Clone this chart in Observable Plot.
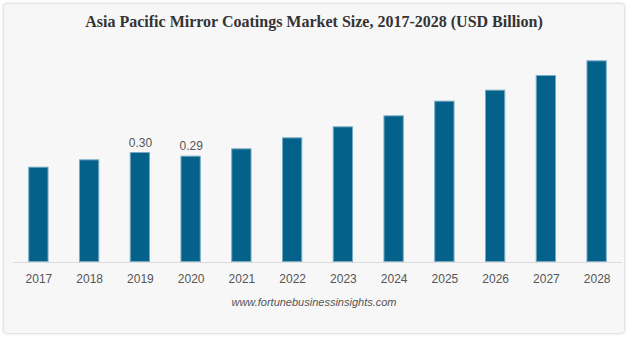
<!DOCTYPE html>
<html>
<head>
<meta charset="utf-8">
<script src="https://cdn.jsdelivr.net/npm/d3@7"></script>
<script src="https://cdn.jsdelivr.net/npm/@observablehq/plot@0.6"></script>
<style>
  html, body { margin: 0; padding: 0; background: #ffffff; }
  body { width: 628px; height: 337px; position: relative; overflow: hidden; }
  #card {
    position: absolute; left: 3px; top: 3px; width: 622px; height: 331px;
    box-sizing: border-box; background: #f7f7f7; border: 1px solid #e4e4e4;
    border-radius: 4px; box-shadow: 0 0 3px rgba(0,0,0,0.12);
  }
  #title {
    position: absolute; left: 0; top: 12px; width: 628px; text-align: center;
    font-family: "Liberation Serif", "Times New Roman", serif; font-weight: bold;
    font-size: 16px; color: #333; line-height: 20px;
  }
  #chart { position: absolute; left: 0; top: 38px; }
  #footer {
    position: absolute; left: 0; top: 295px; width: 628px; text-align: center;
    font-family: "Liberation Sans", Arial, sans-serif; font-style: italic;
    font-size: 11px; color: #555; line-height: 14px;
  }
</style>
</head>
<body>
<div id="card"></div>
<div id="title">Asia Pacific Mirror Coatings Market Size, 2017-2028 (USD Billion)</div>
<div id="chart"></div>
<div id="footer">www.fortunebusinessinsights.com</div>
<script>
const years = ["2017","2018","2019","2020","2021","2022","2023","2024","2025","2026","2027","2028"];
const values = [0.26, 0.28, 0.30, 0.29, 0.31, 0.34, 0.37, 0.40, 0.44, 0.47, 0.51, 0.55];
const labelYears = ["2019", "2020"];

const data = years.map((y, i) => ({year: y, value: values[i]}));
const labelled = data.filter(d => labelYears.includes(d.year));

const plot = Plot.plot({
  width: 628,
  height: 252,
  marginTop: 4,
  marginBottom: 28,
  marginLeft: 13,
  marginRight: 6,
  style: {background: "transparent", fontFamily: "'Liberation Sans', Arial, sans-serif", fontSize: "12px", color: "#555"},
  x: {domain: years, paddingInner: 0.6, paddingOuter: 0.3, round: false, label: null, tickSize: 0, tickPadding: 12},
  y: {domain: [0, 0.6], axis: null},
  marks: [
    Plot.barY(data, {x: "year", y: "value", fill: "#04628a", stroke: "#78abc4", strokeWidth: 1, inset: 0.5}),
    Plot.ruleY([0], {stroke: "#dcdcdc", strokeWidth: 1}),
    Plot.text(labelled, {x: "year", y: "value", text: d => d.value.toFixed(2), lineAnchor: "bottom", dy: -6, fill: "#555", fontSize: 12})
  ]
});
document.getElementById("chart").appendChild(plot);
</script>
</body>
</html>
